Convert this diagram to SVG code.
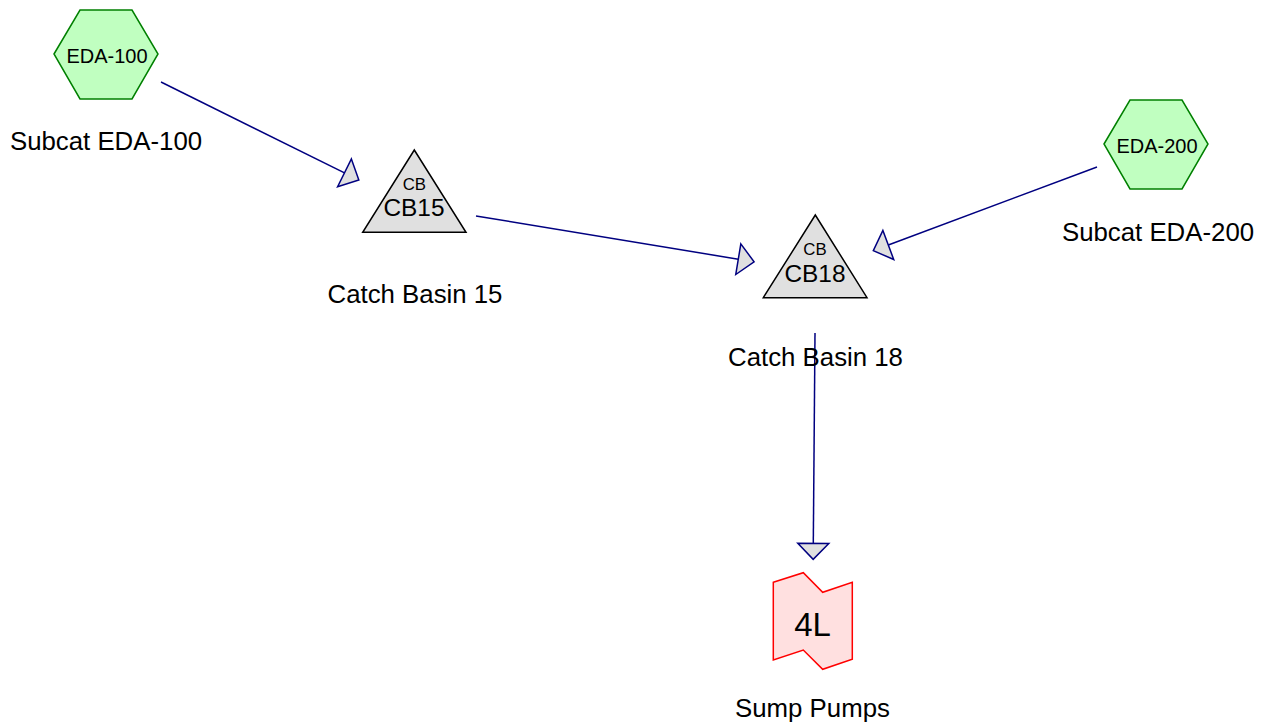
<svg xmlns="http://www.w3.org/2000/svg" width="1265" height="727" viewBox="0 0 1265 727">
<style>
text{font-family:"Liberation Sans",Arial,sans-serif;fill:#000;text-anchor:middle}
.hex{fill:#c0ffc0;stroke:#008000;stroke-width:1.5}
.tri{fill:#e0e0e0;stroke:#000;stroke-width:1.5}
.pump{fill:#ffe0e0;stroke:#ff0000;stroke-width:1.5}
.conn{fill:none;stroke:#000080;stroke-width:1.5}
.lbl{font-size:25.8px}
.hx{font-size:20px}
.cb{font-size:16.8px}
.cbn{font-size:24.4px}
</style>
<defs>
<marker id="arr" markerUnits="userSpaceOnUse" orient="auto" viewBox="-1 -17 19 34" markerWidth="19" markerHeight="34" refX="0" refY="0" overflow="visible">
<path d="M0,-15.5 L16,0 L0,15.5 Z" fill="#e0e0e0" stroke="#000080" stroke-width="1.5"/>
</marker>
</defs>
<rect width="1265" height="727" fill="#fff"/>
<g id="connectors">
<line class="conn" x1="161" y1="82" x2="344.5" y2="172.9" marker-end="url(#arr)"/>
<line class="conn" x1="476" y1="216" x2="738.3" y2="259.2" marker-end="url(#arr)"/>
<line class="conn" x1="1097" y1="167" x2="888.3" y2="245" marker-end="url(#arr)"/>
<line class="conn" x1="815" y1="333" x2="813.3" y2="543.3" marker-end="url(#arr)"/>
</g>
<g id="EDA-100">
<polygon class="hex" points="54,54 80,10 132,10 158,54 132,99 80,99"/>
<text class="hx" x="107" y="63">EDA-100</text>
<text class="lbl" x="106" y="150">Subcat EDA-100</text>
</g>
<g id="EDA-200">
<polygon class="hex" points="1104,144 1130,100 1182,100 1208,144 1182,189 1130,189"/>
<text class="hx" x="1157" y="153">EDA-200</text>
<text class="lbl" x="1158" y="241">Subcat EDA-200</text>
</g>
<g id="CB15">
<polygon class="tri" points="414.3,150 466,232.3 362.7,232.3"/>
<text class="cb" x="414.3" y="190">CB</text>
<text class="cbn" x="414" y="216">CB15</text>
<text class="lbl" x="415" y="303">Catch Basin 15</text>
</g>
<g id="CB18">
<polygon class="tri" points="815.3,215 867,297.7 763.3,297.7"/>
<text class="cb" x="815" y="255">CB</text>
<text class="cbn" x="815" y="281.7">CB18</text>
<text class="lbl" x="815.5" y="365.5">Catch Basin 18</text>
</g>
<g id="4L">
<polygon class="pump" points="773.3,582.3 803.3,572.7 822.7,592.3 852.3,582.3 852.3,659.3 822.7,669.3 803.3,650 773.3,660"/>
<text x="812.5" y="636" font-size="33px">4L</text>
<text class="lbl" x="812.5" y="717">Sump Pumps</text>
</g>
</svg>
